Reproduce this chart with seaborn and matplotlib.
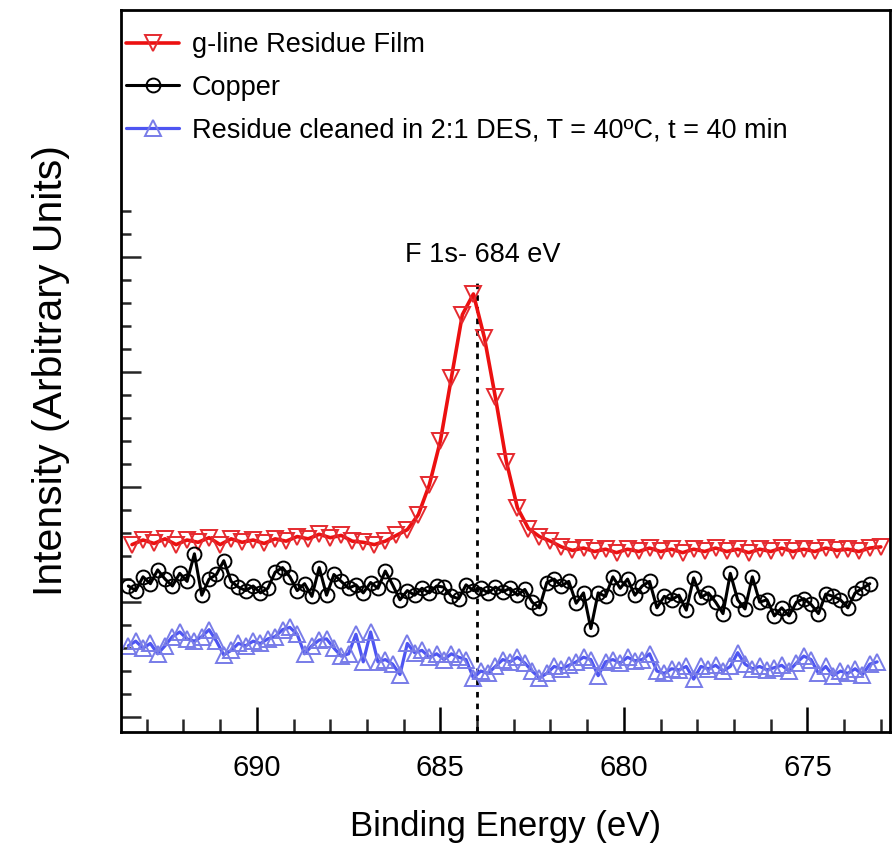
import numpy as np
import pandas as pd
import matplotlib
matplotlib.use("Agg")
import matplotlib.pyplot as plt
import seaborn as sns
from matplotlib.ticker import FixedLocator, MultipleLocator, NullFormatter

# ---------------- data ----------------
# g-line Residue Film: binding energy grid 693.4 -> 673.0 eV, step 0.3 eV
red_energy = np.round(np.arange(693.4, 672.95, -0.3), 2)
red_intensity = [
    # 693.4 .. 686.8
    1.50, 1.54, 1.51, 1.55, 1.50, 1.54, 1.52, 1.56, 1.50, 1.55, 1.52, 1.54,
    1.51, 1.55, 1.53, 1.57, 1.55, 1.59, 1.56, 1.58, 1.53, 1.52, 1.50,
    # 686.5 .. 682.0 (F 1s peak)
    1.53, 1.58, 1.63, 1.76, 2.02, 2.40, 2.95, 3.50, 3.68, 3.30, 2.78, 2.22,
    1.82, 1.64, 1.57, 1.53,
    # 681.7 .. 673.0
    1.48, 1.45, 1.47, 1.44, 1.46, 1.43, 1.46, 1.44, 1.47, 1.44, 1.46, 1.43,
    1.46, 1.44, 1.47, 1.44, 1.46, 1.43, 1.46, 1.44, 1.47, 1.44, 1.46, 1.44,
    1.47, 1.45, 1.46, 1.44, 1.47, 1.48,
]

# Copper: grid 693.5 -> 673.3 eV, step 0.2 eV
black_energy = np.round(np.arange(693.5, 673.25, -0.2), 2)
black_intensity = [
    1.14, 1.10, 1.22, 1.16, 1.28, 1.20, 1.14, 1.25, 1.18, 1.42,
    1.06, 1.20, 1.24, 1.36, 1.18, 1.13, 1.10, 1.14, 1.08, 1.12,
    1.26, 1.30, 1.22, 1.10, 1.16, 1.05, 1.30, 1.06, 1.24, 1.18,
    1.12, 1.15, 1.08, 1.17, 1.12, 1.27, 1.15, 1.02, 1.10, 1.06,
    1.12, 1.08, 1.14, 1.13, 1.05, 1.03, 1.15, 1.10, 1.12, 1.08,
    1.13, 1.09, 1.12, 1.06, 1.11, 1.00, 0.95, 1.17, 1.20, 1.14,
    1.18, 0.99, 1.08, 0.77, 1.08, 1.05, 1.22, 1.12, 1.20, 1.06,
    1.14, 1.18, 0.95, 1.05, 1.02, 1.06, 0.93, 1.21, 1.04, 1.08,
    1.00, 0.90, 1.25, 1.02, 0.94, 1.22, 1.00, 1.02, 0.88, 0.95,
    0.88, 1.00, 1.03, 0.98, 0.90, 1.07, 1.05, 1.02, 0.95, 1.08,
    1.12, 1.16,
]

# Residue cleaned in 2:1 DES: grid 693.5 -> 673.1 eV, step 0.2 eV
blue_energy = np.round(np.arange(693.5, 673.05, -0.2), 2)
blue_intensity = [
    0.62, 0.66, 0.60, 0.64, 0.55, 0.62, 0.70, 0.74, 0.68, 0.66,
    0.70, 0.76, 0.66, 0.54, 0.58, 0.64, 0.62, 0.66, 0.64, 0.68,
    0.70, 0.76, 0.78, 0.72, 0.55, 0.62, 0.67, 0.68, 0.60, 0.53,
    0.55, 0.72, 0.48, 0.74, 0.48, 0.50, 0.46, 0.37, 0.64, 0.56,
    0.58, 0.52, 0.55, 0.50, 0.55, 0.52, 0.50, 0.34, 0.40, 0.38,
    0.44, 0.50, 0.48, 0.52, 0.47, 0.40, 0.34, 0.38, 0.44, 0.42,
    0.45, 0.48, 0.52, 0.50, 0.36, 0.48, 0.50, 0.47, 0.52, 0.49,
    0.50, 0.55, 0.40, 0.38, 0.42, 0.41, 0.44, 0.33, 0.44, 0.42,
    0.45, 0.40, 0.44, 0.56, 0.46, 0.42, 0.44, 0.41, 0.43, 0.45,
    0.40, 0.47, 0.53, 0.50, 0.38, 0.44, 0.36, 0.40, 0.38, 0.42,
    0.37, 0.46, 0.48,
]

series_labels = [
    "g-line Residue Film",
    "Copper",
    "Residue cleaned in 2:1 DES, T = 40ºC, t = 40 min",
]
peak_label = "F 1s- 684 eV"
peak_energy = 684.0
peak_line_top = 3.78
peak_text_x = 683.85
peak_text_y = 4.02

x_major_ticks = [690, 685, 680, 675]
y_major_ticks = [0, 1, 2, 3, 4]
y_minor_ticks = np.round(np.arange(0, 4.41, 0.2), 2)
x_limits = (693.7, 672.75)
y_limits = (-0.13, 6.15)

# ---------------- styling ----------------
sns.set_theme(style="ticks")
plt.rcParams["font.family"] = ["Liberation Sans", "DejaVu Sans"]
plt.rcParams["axes.linewidth"] = 2.0

W, H = 896, 847
fig = plt.figure(figsize=(W / 100, H / 100), dpi=100)
ax = fig.add_axes([121 / W, 1 - 732 / H, (890 - 121) / W, (732 - 10) / H])

df_red = pd.DataFrame({"energy": red_energy, "intensity": red_intensity})
df_black = pd.DataFrame({"energy": black_energy, "intensity": black_intensity})
df_blue = pd.DataFrame({"energy": blue_energy, "intensity": blue_intensity})

red = "#ec1010"
red_m = "#e52a2f"
blue = "#4e55f2"
blue_m = "#787ce8"

sns.lineplot(data=df_red, x="energy", y="intensity", ax=ax, color=red, lw=2.6,
             marker="v", markersize=11, mfc="none", mec=red_m, mew=1.4,
             label=series_labels[0], sort=False)
sns.lineplot(data=df_black, x="energy", y="intensity", ax=ax, color="black", lw=2.2,
             marker="o", markersize=10, mfc="none", mec="black", mew=1.4,
             label=series_labels[1], sort=False)
sns.lineplot(data=df_blue, x="energy", y="intensity", ax=ax, color=blue, lw=2.3,
             marker="^", markersize=11, mfc="none", mec=blue_m, mew=1.4,
             label=series_labels[2], sort=False)

ax.vlines(peak_energy, y_limits[0], peak_line_top, colors="black",
          linestyles=(0, (2, 2.2)), lw=2.0, zorder=1)
ax.text(peak_text_x, peak_text_y, peak_label, ha="center", va="center",
        fontsize=19.5, color="black")

ax.set_xlim(*x_limits)
ax.set_ylim(*y_limits)

ax.xaxis.set_major_locator(FixedLocator(x_major_ticks))
ax.xaxis.set_minor_locator(MultipleLocator(1))
ax.yaxis.set_major_locator(FixedLocator(y_major_ticks))
ax.yaxis.set_minor_locator(FixedLocator(y_minor_ticks))
ax.yaxis.set_major_formatter(NullFormatter())
ax.yaxis.set_minor_formatter(NullFormatter())

ax.tick_params(axis="x", which="major", direction="in", length=18, width=1.8,
               labelsize=21, pad=16, colors="black")
ax.tick_params(axis="x", which="minor", direction="in", length=9.4, width=1.8)
ax.tick_params(axis="y", which="major", direction="in", length=14.4, width=1.8,
               labelleft=False)
ax.tick_params(axis="y", which="minor", direction="in", length=7.2, width=1.8)
ax.tick_params(top=False, right=False, which="both")

for s in ax.spines.values():
    s.set_visible(True)
    s.set_linewidth(2.0)
    s.set_color("black")

ax.set_xlabel("Binding Energy (eV)", fontsize=25, labelpad=20, color="black")
ax.set_ylabel("Intensity (Arbitrary Units)", fontsize=29.5, labelpad=33, color="black")

leg = ax.legend(loc="upper left", bbox_to_anchor=(0.0065, 0.9695), frameon=False,
                fontsize=19.5, handlelength=1.97, handletextpad=0.45,
                borderpad=0, borderaxespad=0, labelspacing=0.62, numpoints=1)
for t in leg.get_texts():
    t.set_color("black")

fig.savefig("out.png", dpi=100, facecolor="white")
